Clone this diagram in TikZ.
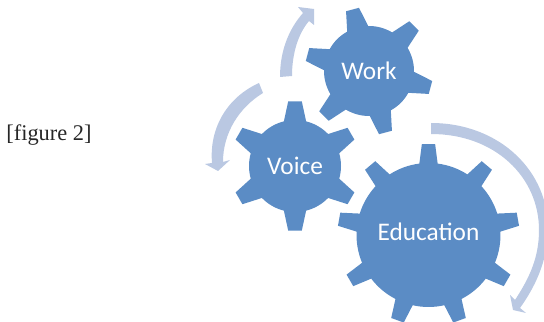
\documentclass[tikz,border=0pt]{standalone}
\usepackage{fontspec}
\setmainfont{Liberation Serif}
\newfontfamily\labelfont{Carlito}
\definecolor{gearblue}{RGB}{91,140,197}
\definecolor{arrowblue}{RGB}{186,200,226}
\tikzset{
  gearbody/.style={fill=gearblue,draw=none},
  cyclearrow/.style={fill=arrowblue,draw=none},
  gearlabel/.style={font=\labelfont\fontsize{19}{21}\selectfont,text=white,inner sep=0pt},
}
% #1 centre, #2 body r, #3 tip r, #4 tooth count, #5 first angle, #6 base half angle, #7 tip half angle
\newcommand{\gearshape}[7]{%
  \pgfmathsetmacro{\stepang}{360/#4}
  \begin{scope}[shift={#1}]
  \fill[gearbody] (#5-#6:#2)
    \foreach \k in {1,...,#4}{
      -- ({#5+(\k-1)*\stepang-#7}:#3)
      -- ({#5+(\k-1)*\stepang+#7}:#3)
      -- ({#5+(\k-1)*\stepang+#6}:#2)
      arc[start angle={#5+(\k-1)*\stepang+#6},end angle={#5+\k*\stepang-#6},radius=#2]
    } -- cycle;
  \end{scope}}
\begin{document}
\begin{tikzpicture}[x=0.75pt,y=0.75pt]
\useasboundingbox (0,0) rectangle (544,322);
\node[font=\fontsize{16.8}{18}\selectfont,text=black!85,inner sep=0pt] (cap) at (49,187) {[figure 2]};
\gearshape{(369,251)}{45}{64}{6}{105}{14}{6}
\gearshape{(295,156)}{46}{65}{6}{90}{14}{6}
\gearshape{(428.5,87)}{72}{91}{9}{90}{7.3}{4.2}
\node[gearlabel] (work) at (369,251) {Work};
\node[gearlabel] (voice) at (295,156) {Voice};
\node[gearlabel] (education) at (428.5,90) {Education};
% Work arrow
\fill[cyclearrow] (280,245) .. controls (280,270) and (288,292) .. (303,309)
  -- (298,315) -- (314,313) -- (314,297) -- (309,301)
  .. controls (298,288) and (292,268) .. (292,246) -- cycle;
% Voice arrow
\fill[cyclearrow] (259,239) .. controls (228,225) and (209,195) .. (212,159)
  -- (205,158) -- (218,151) -- (230,162) -- (223,160)
  .. controls (223,190) and (240,215) .. (263,229) -- cycle;
% Education arrow
\fill[cyclearrow] (431,199) .. controls (500,199) and (550,150) .. (548,90)
  .. controls (547,60) and (535,35) .. (520,14)
  -- (526,9) -- (513,12) -- (510,27) -- (515,22)
  .. controls (530,45) and (539,65) .. (539,92)
  .. controls (539,145) and (495,188) .. (431,188) -- cycle;
\end{tikzpicture}
\end{document}
